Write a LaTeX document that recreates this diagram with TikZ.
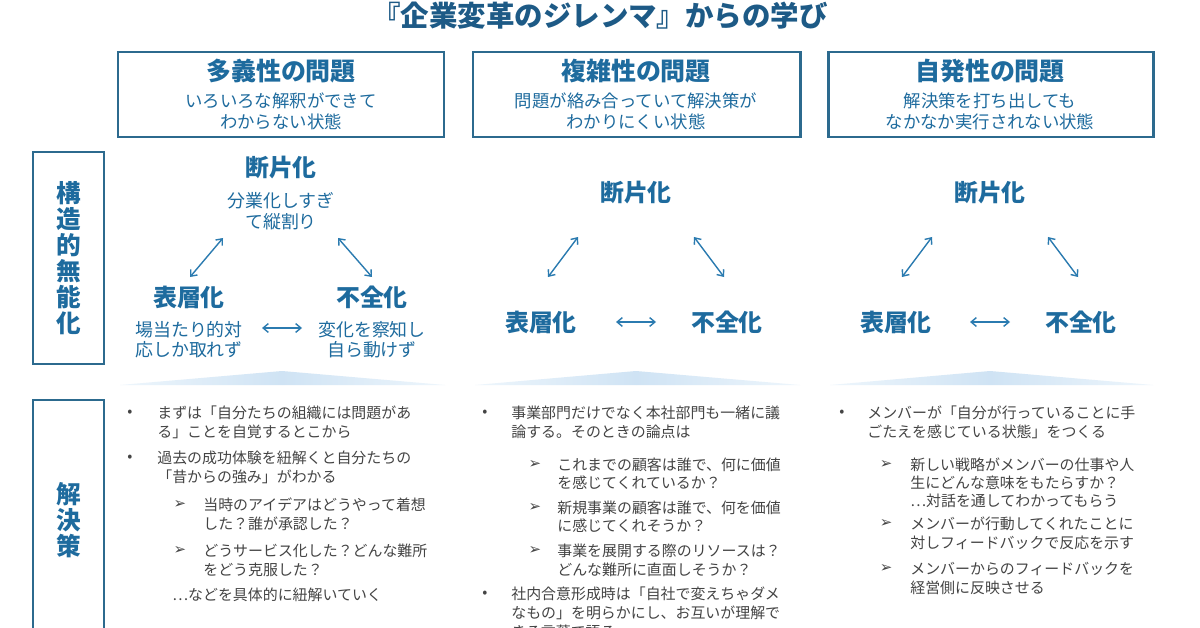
\documentclass[tikz,border=0pt]{standalone}
\usepackage{fontspec}
\setmainfont{Noto Sans CJK JP}
\newfontfamily\symfont{DejaVu Sans}
\usetikzlibrary{arrows.meta}
\definecolor{titleblue}{HTML}{1D5A86}
\definecolor{boxline}{HTML}{2C6A8E}
\definecolor{headblue}{HTML}{1E6B9E}
\definecolor{arrowblue}{HTML}{2B7BB0}
\definecolor{bodygray}{HTML}{444444}
\definecolor{sepblue}{HTML}{CFE3F4}
\definecolor{sepfade}{HTML}{EEF6FC}
\tikzset{
  frame/.style={draw=boxline, line width=1.7pt},
  ttl/.style={font=\bfseries\fontsize{16.2}{18}\selectfont, text=titleblue},
  hd/.style={font=\bfseries\fontsize{14.2}{16}\selectfont, text=headblue},
  hsub/.style={font=\fontsize{9.9}{12}\selectfont, text=headblue},
  side/.style={font=\bfseries\fontsize{14}{14.8}\selectfont, text=headblue, align=center},
  tri/.style={font=\bfseries\fontsize{13.6}{15}\selectfont, text=headblue},
  trisub/.style={font=\fontsize{10.2}{12}\selectfont, text=headblue},
  arr/.style={draw=arrowblue, line width=0.8pt, {Straight Barb[length=3pt,width=5pt]}-{Straight Barb[length=3pt,width=5pt]}},
  body/.style={font=\fontsize{8.5}{10}\selectfont, text=bodygray, anchor=west, inner sep=0pt},
  bul/.style={font=\fontsize{8.5}{10}\selectfont, text=bodygray, inner sep=0pt},
  subbul/.style={font=\symfont\fontsize{8.5}{10}\selectfont, text=bodygray, inner sep=0pt},
}
\begin{document}
\begin{tikzpicture}[x=0.02cm,y=-0.02cm]
\useasboundingbox (0,0) rectangle (1200,628);
\clip (0,0) rectangle (1200,628);
\fill[white] (0,0) rectangle (1200,628);

% title
\node[ttl] (title) at (600,16) {『企業変革のジレンマ』からの学び};

% header boxes
\draw[frame] (118,52) rectangle (444,137);
\draw[frame] (473,52) rectangle (800,137);
\draw[frame] (828,52) rectangle (1153,137);
\node[hd] (h1) at (281,71) {多義性の問題};
\node[hsub] (h1a) at (281,101) {いろいろな解釈ができて};
\node[hsub] (h1b) at (281,122) {わからない状態};
\node[hd] (h2) at (636,71) {複雑性の問題};
\node[hsub] (h2a) at (636,101) {問題が絡み合っていて解決策が};
\node[hsub] (h2b) at (636,122) {わかりにくい状態};
\node[hd] (h3) at (990,71) {自発性の問題};
\node[hsub] (h3a) at (990,101) {解決策を打ち出しても};
\node[hsub] (h3b) at (990,122) {なかなか実行されない状態};

% side boxes
\draw[frame] (33,152) rectangle (104,364);
\node[side] (s1) at (68.5,258) {構\\造\\的\\無\\能\\化};
\draw[frame] (33,400) rectangle (104,660);
\node[side] (s2) at (68.5,520) {解\\決\\策};

% triangle column 1
\node[tri] (t1) at (281,168) {断片化};
\node[trisub] (t1a) at (281,201) {分業化しすぎ};
\node[trisub] (t1b) at (281,222) {て縦割り};
\node[tri] (l1) at (189,297) {表層化};
\node[trisub] (l1a) at (189,330) {場当たり的対};
\node[trisub] (l1b) at (189,350) {応しか取れず};
\node[tri] (r1) at (372,297) {不全化};
\node[trisub] (r1a) at (372,330) {変化を察知し};
\node[trisub] (r1b) at (372,350) {自ら動けず};
\coordinate (a1s) at (223,238); \coordinate (a1e) at (190,277);
\coordinate (b1s) at (338,238); \coordinate (b1e) at (372,277);
\coordinate (c1s) at (262,328); \coordinate (c1e) at (302,328);
\draw[arr] (a1s) -- (a1e);
\draw[arr] (b1s) -- (b1e);
\draw[arr] (c1s) -- (c1e);

% triangle column 2
\node[tri] (t2) at (636,193) {断片化};
\node[tri] (l2) at (541,322) {表層化};
\node[tri] (r2) at (727,322) {不全化};
\coordinate (a2s) at (578,237); \coordinate (a2e) at (548,277);
\coordinate (b2s) at (694,237); \coordinate (b2e) at (724,277);
\coordinate (c2s) at (616,322); \coordinate (c2e) at (656,322);
\draw[arr] (a2s) -- (a2e);
\draw[arr] (b2s) -- (b2e);
\draw[arr] (c2s) -- (c2e);

% triangle column 3
\node[tri] (t3) at (990,193) {断片化};
\node[tri] (l3) at (896,322) {表層化};
\node[tri] (r3) at (1081,322) {不全化};
\coordinate (a3s) at (932,237); \coordinate (a3e) at (902,277);
\coordinate (b3s) at (1048,237); \coordinate (b3e) at (1078,277);
\coordinate (c3s) at (970,322); \coordinate (c3e) at (1010,322);
\draw[arr] (a3s) -- (a3e);
\draw[arr] (b3s) -- (b3e);
\draw[arr] (c3s) -- (c3e);

% separators
\foreach \xa/\xm/\xb in {120/282/445, 475/636/800, 830/990/1153}{
  \shade[left color=sepfade, right color=sepblue] (\xa,385) -- (\xm,371) -- (\xm,385) -- cycle;
  \shade[left color=sepblue, right color=sepfade] (\xm,371) -- (\xb,385) -- (\xm,385) -- cycle;
}

% column 1 text
\node[bul] (p1a) at (130,413) {•};
\node[body] (q1a) at (157,413) {まずは「自分たちの組織には問題があ};
\node[body] (q1b) at (157,432) {る」ことを自覚するとこから};
\node[bul] (p1b) at (130,458) {•};
\node[body] (q1c) at (157,458) {過去の成功体験を紐解くと自分たちの};
\node[body] (q1d) at (157,477) {「昔からの強み」がわかる};
\node[subbul] (p1c) at (180,505) {➢};
\node[body] (q1e) at (203,505) {当時のアイデアはどうやって着想};
\node[body] (q1f) at (203,524) {した？誰が承認した？};
\node[subbul] (p1d) at (180,551) {➢};
\node[body] (q1g) at (203,551) {どうサービス化した？どんな難所};
\node[body] (q1h) at (203,570) {をどう克服した？};
\node[body] (q1i) at (172,595) {…などを具体的に紐解いていく};

% column 2 text
\node[bul] (p2a) at (485,413) {•};
\node[body] (q2a) at (511,413) {事業部門だけでなく本社部門も一緒に議};
\node[body] (q2b) at (511,432) {論する。そのときの論点は};
\node[subbul] (p2b) at (535,465) {➢};
\node[body] (q2c) at (557,465) {これまでの顧客は誰で、何に価値};
\node[body] (q2d) at (557,483) {を感じてくれているか？};
\node[subbul] (p2c) at (535,508) {➢};
\node[body] (q2e) at (557,508) {新規事業の顧客は誰で、何を価値};
\node[body] (q2f) at (557,526) {に感じてくれそうか？};
\node[subbul] (p2d) at (535,551) {➢};
\node[body] (q2g) at (557,551) {事業を展開する際のリソースは？};
\node[body] (q2h) at (557,570) {どんな難所に直面しそうか？};
\node[bul] (p2e) at (485,594) {•};
\node[body] (q2i) at (511,594) {社内合意形成時は「自社で変えちゃダメ};
\node[body] (q2j) at (511,613) {なもの」を明らかにし、お互いが理解で};
\node[body] (q2k) at (511,632) {きる言葉で語る};

% column 3 text
\node[bul] (p3a) at (842,413) {•};
\node[body] (q3a) at (867,413) {メンバーが「自分が行っていることに手};
\node[body] (q3b) at (867,432) {ごたえを感じている状態」をつくる};
\node[subbul] (p3b) at (886,465) {➢};
\node[body] (q3c) at (910,465) {新しい戦略がメンバーの仕事や人};
\node[body] (q3d) at (910,483) {生にどんな意味をもたらすか？};
\node[body] (q3e) at (910,501) {…対話を通してわかってもらう};
\node[subbul] (p3c) at (886,524) {➢};
\node[body] (q3f) at (910,524) {メンバーが行動してくれたことに};
\node[body] (q3g) at (910,543) {対しフィードバックで反応を示す};
\node[subbul] (p3d) at (886,569) {➢};
\node[body] (q3h) at (910,569) {メンバーからのフィードバックを};
\node[body] (q3i) at (910,588) {経営側に反映させる};
\end{tikzpicture}
\end{document}
